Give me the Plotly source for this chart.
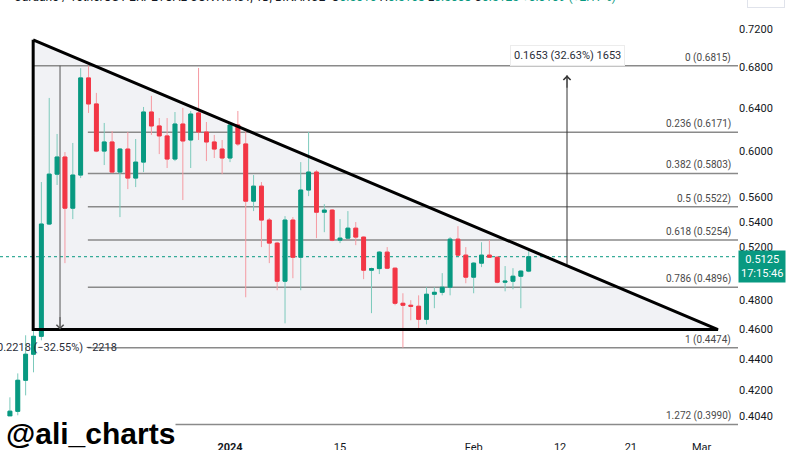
import numpy as np
import pandas as pd
import plotly.graph_objects as go

# ---------------- data ----------------
dates = pd.date_range("2023-12-04", periods=67, freq="D")
opens = [0.4040, 0.4069, 0.4262, 0.4431, 0.4551, 0.5381, 0.5797, 0.5947, 0.5510, 0.5789,
         0.6692, 0.6437, 0.6000, 0.6082, 0.5815, 0.6018, 0.5763, 0.5902, 0.6360, 0.6229,
         0.6137, 0.5929, 0.6247, 0.6100, 0.6351, 0.6173, 0.6082, 0.6018, 0.5938, 0.6238,
         0.6064, 0.5568, 0.5694, 0.5413, 0.5230, 0.4941, 0.5413, 0.5121, 0.5661, 0.5815,
         0.5477, 0.5494, 0.5253, 0.5269, 0.5348, 0.5277, 0.5023, 0.5035, 0.5160, 0.5038,
         0.4781, 0.4767, 0.4760, 0.4668, 0.4846, 0.4860, 0.4897, 0.5261, 0.5137, 0.4971,
         0.5076, 0.5137, 0.5121, 0.4934, 0.4941, 0.4978, 0.5016]
highs = [0.4155, 0.4306, 0.4558, 0.4606, 0.5729, 0.6495, 0.6155, 0.5991, 0.6073, 0.6790,
         0.6815, 0.6544, 0.6257, 0.6182, 0.6025, 0.6173, 0.6109, 0.6408, 0.6515, 0.6303,
         0.6303, 0.6360, 0.6399, 0.6370, 0.6792, 0.6266, 0.6146, 0.6100, 0.6257, 0.6370,
         0.6182, 0.5789, 0.5729, 0.5429, 0.5240, 0.5445, 0.5437, 0.5902, 0.6173, 0.5832,
         0.5543, 0.5502, 0.5421, 0.5486, 0.5397, 0.5282, 0.5042, 0.5168, 0.5199, 0.5042,
         0.4853, 0.4803, 0.4838, 0.4897, 0.4897, 0.5001, 0.5277, 0.5364, 0.5199, 0.5083,
         0.5237, 0.5253, 0.5129, 0.5054, 0.5038, 0.5023, 0.5168]
lows = [0.4030, 0.4045, 0.4167, 0.4313, 0.4524, 0.5373, 0.5704, 0.5076, 0.5421, 0.5763,
        0.6351, 0.5990, 0.5876, 0.5806, 0.5437, 0.5669, 0.5686, 0.5815, 0.6146, 0.5973,
        0.5850, 0.5911, 0.5577, 0.5850, 0.6100, 0.5911, 0.5938, 0.5797, 0.5902, 0.6046,
        0.4824, 0.5486, 0.5199, 0.5076, 0.4875, 0.4640, 0.4963, 0.4875, 0.5610, 0.5269,
        0.5316, 0.5245, 0.5230, 0.5262, 0.5214, 0.4956, 0.4711, 0.4994, 0.5031, 0.4767,
        0.4474, 0.4661, 0.4592, 0.4633, 0.4746, 0.4838, 0.4838, 0.5129, 0.4926, 0.4853,
        0.5046, 0.5115, 0.4926, 0.4867, 0.4882, 0.4746, 0.5008]
closes = [0.4070, 0.4262, 0.4431, 0.4551, 0.5381, 0.5797, 0.5947, 0.5510, 0.5789, 0.6692,
          0.6437, 0.6000, 0.6082, 0.5815, 0.6018, 0.5763, 0.5902, 0.6360, 0.6229, 0.6137,
          0.5929, 0.6247, 0.6091, 0.6341, 0.6173, 0.6082, 0.6018, 0.5938, 0.6238, 0.6064,
          0.5568, 0.5694, 0.5413, 0.5230, 0.4941, 0.5413, 0.5121, 0.5661, 0.5815, 0.5477,
          0.5494, 0.5253, 0.5269, 0.5348, 0.5277, 0.5023, 0.5035, 0.5160, 0.5038, 0.4781,
          0.4767, 0.4760, 0.4668, 0.4846, 0.4860, 0.4897, 0.5261, 0.5137, 0.4971, 0.5076,
          0.5137, 0.5121, 0.4934, 0.4941, 0.4978, 0.5016, 0.5125]

fib_ratios = ["0", "0.236", "0.382", "0.5", "0.618", "0.786", "1", "1.272"]
fib_prices = [0.6815, 0.6171, 0.5803, 0.5522, 0.5254, 0.4896, 0.4474, 0.3990]
fib_starts = ["2023-12-06 23:00"] + ["2023-12-13 22:00"] * 7
fib_end = "2024-03-05 15:07"

tri_x = ["2023-12-06 23:00", "2023-12-06 23:00", "2024-03-03 02:00"]
tri_y = [0.7083, 0.4597, 0.4597]

down_x = "2023-12-10 09:00"
down_from, down_to = 0.6815, 0.4597
down_text = "0.2218 (\u221232.55%) \u22122218"
up_x = "2024-02-12 21:00"
up_from, up_to = 0.5066, 0.6719
up_text = "0.1653 (32.63%) 1653"

last_price = 0.5125
countdown = "17:15:46"

x_range = ["2023-12-02 17:43", "2024-03-05 15:07"]
y_range = [0.3922, 0.7517]
x_tickvals = ["2024-01-01", "2024-01-15", "2024-02-01", "2024-02-12", "2024-02-21", "2024-03-01"]
x_ticktext = ["<b>2024</b>", "15", "Feb", "12", "21", "Mar"]
y_tickvals = [0.404, 0.42, 0.44, 0.46, 0.48, 0.50, 0.52, 0.54, 0.56, 0.60, 0.64, 0.68, 0.72]

GREEN = "#089981"
RED = "#f23645"
GREEN_W = "#7ccabc"
RED_W = "#f59aa2"
FONT = "Roboto"

# ---------------- figure ----------------
fig = go.Figure()

# --- base layer (x, y): fill, price line, fib lines ---
fig.add_trace(go.Scatter(x=tri_x + [tri_x[0]], y=tri_y + [tri_y[0]], mode="lines",
                         fill="toself", fillcolor="#f1f2f5", line=dict(width=0),
                         hoverinfo="skip"))
fig.add_trace(go.Scatter(x=[x_range[0], x_range[1]], y=[last_price, last_price], mode="lines",
                         line=dict(color=GREEN, width=1, dash="dot"), hoverinfo="skip"))
for s, p in zip(fib_starts, fib_prices):
    fig.add_trace(go.Scatter(x=[s, fib_end], y=[p, p], mode="lines",
                             line=dict(color="#8a8a8a", width=1.5), hoverinfo="skip"))

# --- overlay layer (x2, y2): candles, measures, triangle outline ---
fig.add_trace(go.Candlestick(x=dates, open=opens, high=highs, low=lows, close=closes,
                             increasing=dict(line=dict(color=GREEN_W, width=1), fillcolor=GREEN_W),
                             decreasing=dict(line=dict(color=RED_W, width=1), fillcolor=RED_W),
                             hoverinfo="skip", whiskerwidth=0, xaxis="x2", yaxis="y2"))
body_hi = [max(o, c) for o, c in zip(opens, closes)]
body_lo = [min(o, c) for o, c in zip(opens, closes)]
fig.add_trace(go.Candlestick(x=dates, open=opens, high=body_hi, low=body_lo, close=closes,
                             increasing=dict(line=dict(color=GREEN, width=1), fillcolor=GREEN),
                             decreasing=dict(line=dict(color=RED, width=1), fillcolor=RED),
                             hoverinfo="skip", whiskerwidth=0, xaxis="x2", yaxis="y2"))
fig.add_trace(go.Scatter(x=[down_x, down_x], y=[down_from, down_to], mode="lines",
                         line=dict(color="#555555", width=1), hoverinfo="skip",
                         xaxis="x2", yaxis="y2"))
fig.add_trace(go.Scatter(x=[up_x, up_x], y=[up_from, up_to], mode="lines",
                         line=dict(color="#333333", width=1), hoverinfo="skip",
                         xaxis="x2", yaxis="y2"))
fig.add_trace(go.Scatter(x=tri_x + [tri_x[0]], y=tri_y + [tri_y[0]], mode="lines",
                         line=dict(color="black", width=3), hoverinfo="skip",
                         xaxis="x2", yaxis="y2"))

annotations = []
for r, p in zip(fib_ratios, fib_prices):
    annotations.append(dict(xref="paper", x=0.993, xanchor="right", yref="y", y=np.log10(p),
                            yanchor="bottom", text=f"{r} ({p:.4f})", showarrow=False,
                            font=dict(family=FONT, size=10, color="#4a4a4a")))
annotations.append(dict(x=down_x, y=np.log10(down_to), xref="x", yref="y", text="",
                        showarrow=True, arrowhead=4, arrowsize=1.4, arrowwidth=1,
                        arrowcolor="#555555", ax=0, ay=-14))
annotations.append(dict(x=up_x, y=np.log10(up_to), xref="x", yref="y", text="",
                        showarrow=True, arrowhead=4, arrowsize=1.4, arrowwidth=1,
                        arrowcolor="#333333", ax=0, ay=14))
annotations.append(dict(x=down_x, y=np.log10(down_to), xref="x", yref="y", xshift=-3,
                        yanchor="middle", yshift=-18, text=down_text, showarrow=False,
                        font=dict(family=FONT, size=11, color="#2a2e39")))
annotations.append(dict(x=up_x, y=np.log10(fib_prices[0]), xref="x", yref="y",
                        yanchor="bottom", yshift=0, text=up_text, showarrow=False,
                        bgcolor="white", bordercolor="#ececec", borderwidth=1, borderpad=3,
                        font=dict(family=FONT, size=11, color="#2a2e39")))
annotations.append(dict(xref="paper", x=1.0, xanchor="left", yref="y", y=np.log10(last_price),
                        yanchor="top", yshift=7, text=f"{last_price:.4f}<br>{countdown}",
                        showarrow=False, bgcolor=GREEN, borderpad=2, align="center",
                        font=dict(family=FONT, size=11, color="white")))
annotations.append(dict(xref="paper", x=0.007, xanchor="left", yref="paper", y=0.045,
                        yanchor="top", text="<b>@ali_charts</b>", showarrow=False,
                        bgcolor="white", borderpad=0,
                        font=dict(family="Liberation Sans", size=30, color="black")))
chg = closes[-1] - closes[-2]
hdr = ("Cardano / TetherUS PERPETUAL CONTRACT, 1D, BINANCE  "
       f"O<span style='color:{GREEN}'>{opens[-1]:.4f}</span> "
       f"H<span style='color:{GREEN}'>{highs[-1]:.4f}</span> "
       f"L<span style='color:{GREEN}'>{lows[-1]:.4f}</span> "
       f"C<span style='color:{GREEN}'>{closes[-1]:.4f}</span> "
       f"<span style='color:{GREEN}'>{chg:+.4f} ({chg / closes[-2] * 100:+.2f}%)</span>")
annotations.append(dict(xref="paper", x=0.016, xanchor="left", yref="paper", y=1.0,
                        yanchor="bottom", yshift=-6, text=hdr, showarrow=False,
                        font=dict(family=FONT, size=12, color="#131722")))
annotations.append(dict(xref="paper", x=1.038, xanchor="center", yref="paper", y=1.0,
                        yanchor="bottom", yshift=-8, text="USDT", showarrow=False,
                        bordercolor="#e0e3eb", borderwidth=1, borderpad=4,
                        font=dict(family=FONT, size=11, color="#131722")))

ylog = [np.log10(y_range[0]), np.log10(y_range[1])]
fig.update_layout(
    width=800, height=450,
    margin=dict(l=0, r=62, t=0, b=14, autoexpand=False),
    paper_bgcolor="white", plot_bgcolor="white",
    showlegend=False, hovermode=False,
    annotations=annotations,
    xaxis=dict(type="date", range=x_range, rangeslider=dict(visible=False), automargin=False,
               showgrid=False, zeroline=False, showline=False, ticks="",
               tickvals=x_tickvals, ticktext=x_ticktext, ticklabelstandoff=3,
               tickfont=dict(family=FONT, size=11, color="#131722")),
    yaxis=dict(type="log", side="right", range=ylog, automargin=False,
               showgrid=False, zeroline=False, showline=False, ticks="",
               tickvals=y_tickvals, ticktext=[f"{v:.4f}" for v in y_tickvals],
               tickfont=dict(family=FONT, size=11, color="#131722"), ticklabelstandoff=0),
    xaxis2=dict(type="date", range=x_range, overlaying="x", visible=False, automargin=False,
                rangeslider=dict(visible=False), showgrid=False, zeroline=False),
    yaxis2=dict(type="log", range=ylog, overlaying="y", side="right", visible=False,
                automargin=False, showgrid=False, zeroline=False),
)

fig.write_html("out.html")
